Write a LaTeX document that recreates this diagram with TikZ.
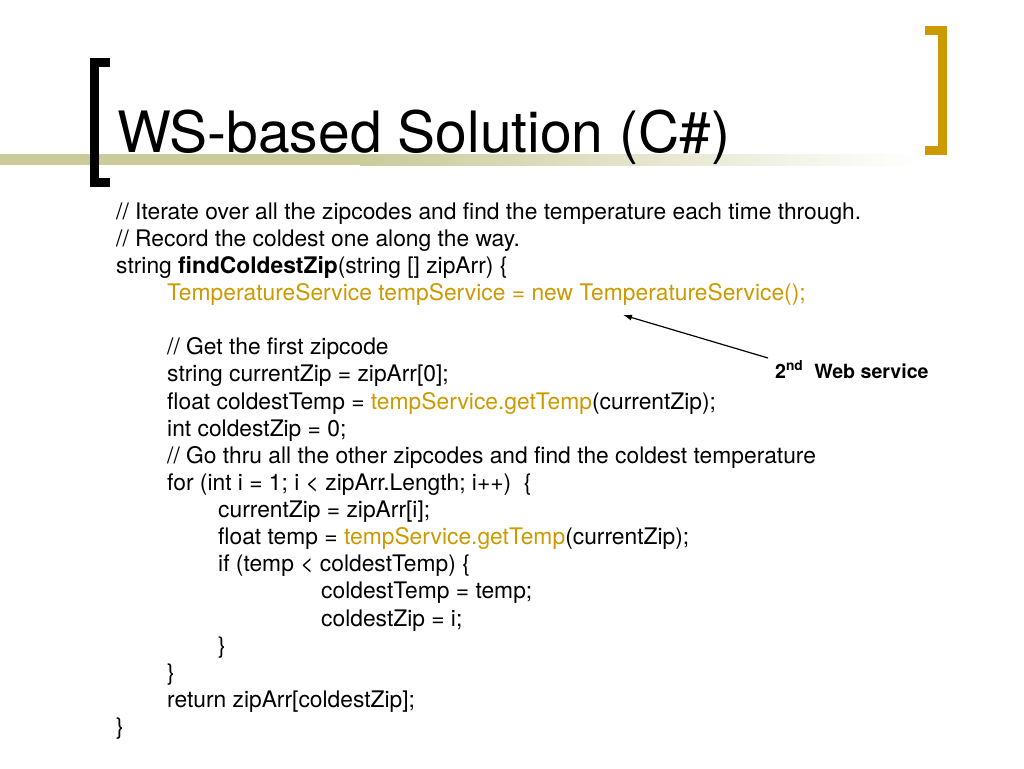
\documentclass[tikz,border=0pt]{standalone}
\usepackage{fontspec}
\setmainfont{TeX Gyre Heros}
\usetikzlibrary{arrows.meta}
\definecolor{gold}{RGB}{204,153,0}
\definecolor{olive}{RGB}{202,202,155}
\begin{document}
\begin{tikzpicture}[>={Latex[length=9pt,width=6pt]}, x=1pt, y=-1pt,
        code/.style={anchor=base west, inner sep=0pt, font=\fontsize{22.8}{27}\selectfont},
        svc/.style={text=gold}]
        \useasboundingbox (0,0) rectangle (1024,768);
        % title bar
        \fill [olive] (0,154) rectangle (360,165);
        \shade [left color=olive, right color=white] (360,154) rectangle (920,165);
        \fill (90,58) rectangle (110,67);
        \fill (90,58) rectangle (99,187);
        \fill (90,178) rectangle (110,187);
        \fill [gold] (925,26) rectangle (947,35);
        \fill [gold] (938,26) rectangle (947,155);
        \fill [gold] (925,146) rectangle (947,155);
        \node [anchor=base west, inner sep=0pt, font=\fontsize{57}{60}\selectfont] (title) at (117,152) {WS-based Solution (C\#)};
        % code lines
        \node [code] (c1) at (116,219) {// Iterate over all the zipcodes and find the temperature each time through.};
        \node [code] (c2) at (116,246) {// Record the coldest one along the way.};
        \node [code] (c3) at (116,273) {string \textbf{findColdestZip}(string [] zipArr) \{};
        \node [code, svc] (c4) at (167,300) {TemperatureService tempService = new TemperatureService();};
        \node [code] (c6) at (167,354) {// Get the first zipcode};
        \node [code] (c7) at (167,381) {string currentZip = zipArr[0];};
        \node [code] (c8) at (167,409) {float coldestTemp = \textcolor{gold}{tempService.getTemp}(currentZip);};
        \node [code] (c9) at (167,436) {int coldestZip = 0;};
        \node [code] (c10) at (167,463) {// Go thru all the other zipcodes and find the coldest temperature};
        \node [code] (c11) at (167,490) {for (int i = 1; i < zipArr.Length; i++)\ \ \{};
        \node [code] (c12) at (218,517) {currentZip = zipArr[i];};
        \node [code] (c13) at (218,544) {float temp = \textcolor{gold}{tempService.getTemp}(currentZip);};
        \node [code] (c14) at (218,571) {if (temp < coldestTemp) \{};
        \node [code] (c15) at (321,598) {coldestTemp = temp;};
        \node [code] (c16) at (321,626) {coldestZip = i;};
        \node [code] (c17) at (218,653) {\}};
        \node [code] (c18) at (167,680) {\}};
        \node [code] (c19) at (167,707) {return zipArr[coldestZip];};
        \node [code] (c20) at (116,734) {\}};
        % note
        \node [code, font=\fontsize{19.6}{24}\selectfont\bfseries] (note) at (775,378) {2\textsuperscript{nd}\ \ Web service};
        \coordinate (notetail) at (768,358);
        \coordinate (svctip) at (623,315);
        \draw [->, line width=1.2pt] (notetail) -- (svctip);
    \end{tikzpicture}
\end{document}
